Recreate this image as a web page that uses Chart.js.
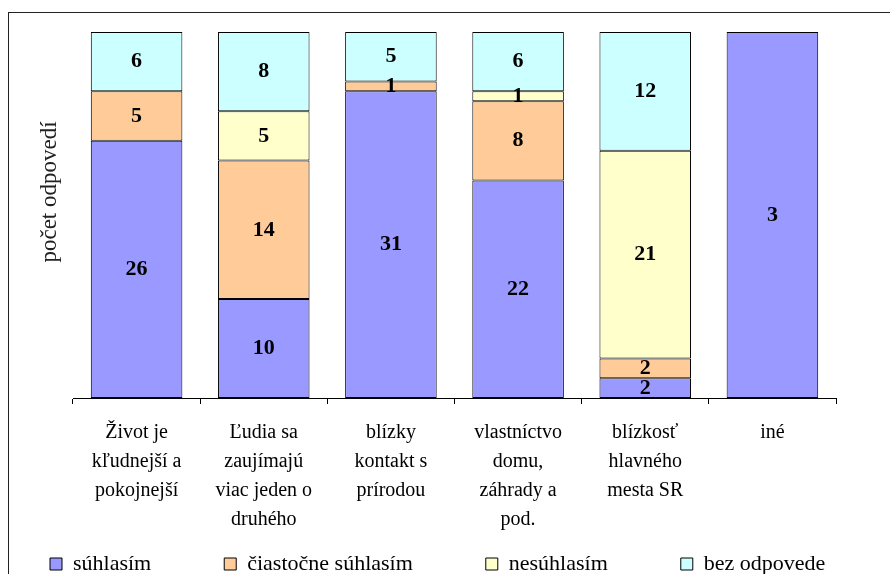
<!DOCTYPE html>
<html>
<head>
<meta charset="utf-8">
<script src="https://cdn.jsdelivr.net/npm/chart.js@4/dist/chart.umd.min.js"></script>
<style>
  html, body { margin: 0; padding: 0; background: #fff; overflow: hidden; width: 890px; height: 574px; }
  .frame { position: absolute; left: 8px; top: 12px; width: 900px; height: 700px;
           border-top: 1.5px solid #222; border-left: 1.5px solid #222; }
  #chart { position: absolute; left: 0; top: 0; }
</style>
</head>
<body>
<div class="frame"></div>
<canvas id="chart" width="890" height="600"></canvas>
<script>
// categories (multi-line labels)
const categories = [
    ['Život je', 'kľudnejší a', 'pokojnejší'],
    ['Ľudia sa', 'zaujímajú', 'viac jeden o', 'druhého'],
    ['blízky', 'kontakt s', 'prírodou'],
    ['vlastníctvo', 'domu,', 'záhrady a', 'pod.'],
    ['blízkosť', 'hlavného', 'mesta SR'],
    ['iné']
];

// answer counts per category
const suhlasim   = [26, 10, 31, 22, 2, 3];
const ciastocne  = [5, 14, 1, 8, 2, 0];
const nesuhlasim = [0, 5, 0, 1, 21, 0];
const bezOdpovede = [6, 8, 5, 6, 12, 0];

const seriesNames = ['súhlasím', 'čiastočne súhlasím', 'nesúhlasím', 'bez odpovede'];
const seriesColors = ['#9999FF', '#FFCC99', '#FFFFCC', '#CCFFFF'];
const series = [suhlasim, ciastocne, nesuhlasim, bezOdpovede];

// totals for 100% stacking
const totals = categories.map((c, i) => series.reduce((s, arr) => s + arr[i], 0));

const serif = "'Liberation Serif', 'Times New Roman', serif";

// draws the raw count in the middle of every segment
const valueLabels = {
    id: 'valueLabels',
    afterDatasetsDraw(chart) {
        const ctx = chart.ctx;
        ctx.save();
        ctx.font = 'bold 22px ' + serif;
        ctx.fillStyle = '#000';
        ctx.textAlign = 'center';
        ctx.textBaseline = 'middle';
        chart.data.datasets.forEach((ds, di) => {
            const meta = chart.getDatasetMeta(di);
            meta.data.forEach((bar, i) => {
                const v = ds.counts[i];
                if (!v) return;
                ctx.fillText(String(v), bar.x, (bar.y + bar.base) / 2);
            });
        });
        ctx.restore();
    }
};

new Chart(document.getElementById('chart'), {
    type: 'bar',
    data: {
        labels: categories,
        datasets: series.map((arr, k) => ({
            label: seriesNames[k],
            counts: arr,
            data: arr.map((v, i) => v / totals[i] * 100),
            backgroundColor: seriesColors[k],
            borderColor: '#000',
            borderWidth: 1,
            borderSkipped: false,
            barPercentage: 0.72,
            categoryPercentage: 1
        }))
    },
    options: {
        responsive: false,
        animation: false,
        layout: {
            padding: { top: 32, left: 32, right: 0, bottom: 15 }
        },
        plugins: {
            legend: {
                position: 'bottom',
                align: 'start',
                labels: {
                    color: '#000',
                    font: { family: serif, size: 22 },
                    boxWidth: 12,
                    boxHeight: 12,
                    padding: 18,
                    // wider gaps between entries, like the original legend
                    generateLabels(chart) {
                        const items = Chart.defaults.plugins.legend.labels.generateLabels(chart);
                        items.forEach((it, i) => {
                            it.strokeStyle = '#000';
                            it.lineWidth = 1;
                            if (i < items.length - 1) it.text += '\u00a0'.repeat(10);
                        });
                        return items;
                    }
                }
            },
            tooltip: { enabled: false }
        },
        scales: {
            x: {
                stacked: true,
                border: { display: true, color: '#000', width: 1 },
                grid: {
                    display: true,
                    offset: true,
                    drawOnChartArea: false,
                    color: '#000',
                    tickLength: 6
                },
                ticks: {
                    color: '#000',
                    maxRotation: 0,
                    autoSkip: false,
                    padding: 14,
                    font: { family: serif, size: 20, lineHeight: 1.45 }
                },
                afterFit(scale) { scale.height = 137; }
            },
            y: {
                stacked: true,
                min: 0,
                max: 100,
                border: { display: false },
                grid: { display: false },
                ticks: { display: false },
                title: {
                    display: true,
                    text: '\u00a0'.repeat(8) + 'počet odpovedí',
                    color: '#222',
                    font: { family: serif, size: 23 },
                    padding: { top: 4, bottom: 0 }
                },
                afterFit(scale) { scale.width = 41; }
            },
            // empty right-hand space of the plot frame
            yRight: {
                position: 'right',
                display: true,
                border: { display: false },
                grid: { display: false },
                ticks: { display: false },
                afterFit(scale) { scale.width = 54; }
            }
        }
    },
    plugins: [valueLabels]
});
</script>
</body>
</html>
